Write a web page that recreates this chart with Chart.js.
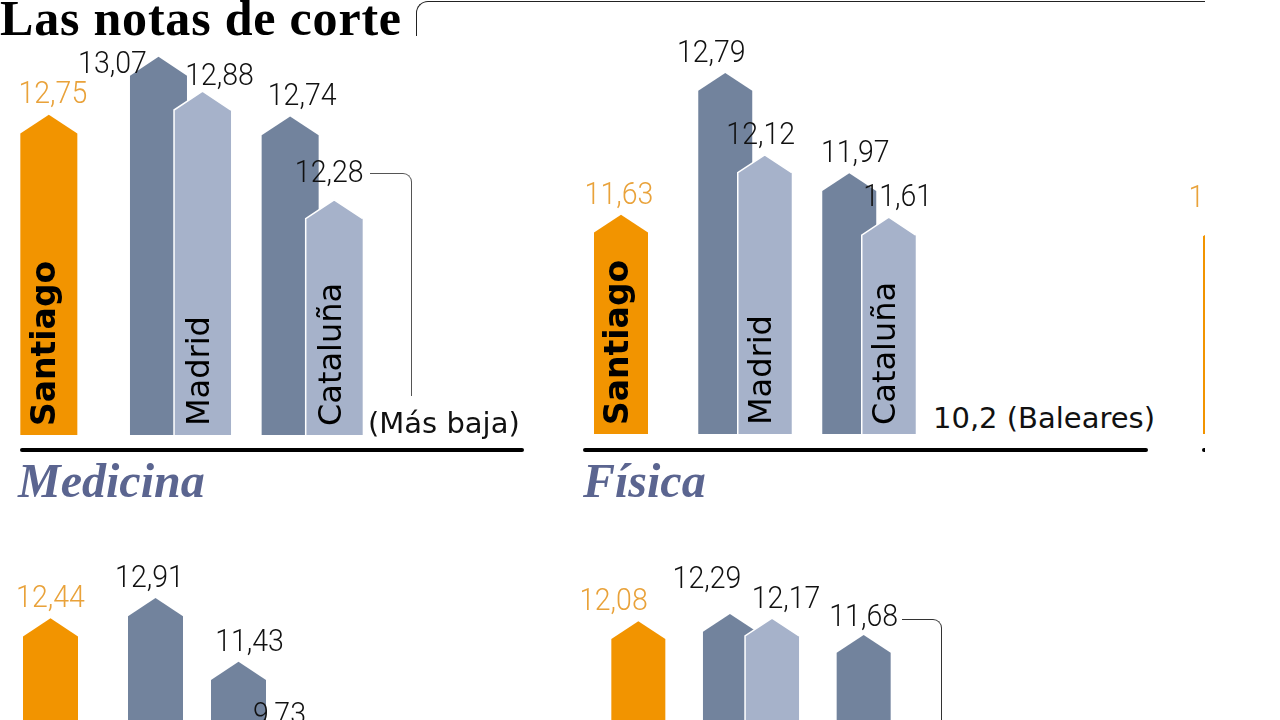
<!DOCTYPE html>
<html lang="es">
<head>
<meta charset="utf-8">
<title>Las notas de corte</title>
<script src="https://cdn.jsdelivr.net/npm/chart.js@4.4.1/dist/chart.umd.min.js"></script>
<style>
  html, body { margin: 0; padding: 0; background: #fff; }
  body { width: 1280px; height: 720px; overflow: hidden; position: relative; }
  #sheet { position: absolute; left: 0; top: 0; width: 1205px; height: 720px; overflow: hidden; }
  .abs { position: absolute; }
  canvas.panel { position: absolute; }
  .title { left: 0; top: -7px; font: bold 50px/50px "Liberation Serif", serif; letter-spacing: 0.8px; color: #000; white-space: nowrap; }
  .bracket { left: 416px; top: 1px; width: 900px; height: 34px; border-left: 1.5px solid #222; border-top: 1.5px solid #222; border-top-left-radius: 12px; }
  .axis { height: 4px; background: #000; border-radius: 2px; top: 448px; }
  .subject { top: 457px; font: italic bold 48px/48px "Liberation Serif", serif; color: #5b6590; white-space: nowrap; }
  .note { font: 29px/30px "DejaVu Sans", sans-serif; color: #111; white-space: nowrap; }
  .link { border-top: 1.5px solid #555; border-right: 1.5px solid #555; border-top-right-radius: 9px; }
</style>
</head>
<body>
<div id="sheet">
  <div class="abs title">Las notas de corte</div>
  <div class="abs bracket"></div>

  <canvas id="medicina" class="panel" width="395" height="435" style="left:-17px;top:0"></canvas>
  <canvas id="fisica" class="panel" width="372" height="434" style="left:559px;top:0"></canvas>
  <canvas id="tercera" class="panel" width="124" height="434" style="left:1168px;top:0"></canvas>
  <canvas id="abajoIzq" class="panel" width="315" height="440" style="left:-2px;top:480px"></canvas>
  <canvas id="abajoCen" class="panel" width="338" height="440" style="left:582px;top:480px"></canvas>

  <div class="abs link" style="left:370px;top:173px;width:41px;height:222px"></div>
  <div class="abs note" style="left:368px;top:408px">(Más baja)</div>
  <div class="abs note" id="baleares" style="left:933px;top:403px"></div>
  <div class="abs link" style="left:902px;top:619px;width:39px;height:200px;border-color:#333"></div>

  <div class="abs axis" style="left:20px;width:504px"></div>
  <div class="abs axis" style="left:583px;width:565px"></div>
  <div class="abs axis" style="left:1202px;width:60px"></div>
  <div class="abs subject" style="left:18px">Medicina</div>
  <div class="abs subject" style="left:583px">Física</div>
</div>

<script>
// ---------- datos ----------
const regions = ['Santiago', 'Madrid', 'Cataluña'];

const medicinaSantiago = [12.75, null, null];
const medicinaAlta = [null, 13.07, 12.74];
const medicinaBaja = [null, 12.88, 12.28];

const fisicaSantiago = [11.63, null, null];
const fisicaAlta = [null, 12.79, 11.97];
const fisicaBaja = [null, 12.12, 11.61];
const fisicaMinima = '10,2 (Baleares)';

// third block: only the left edge of its first bar is visible, value estimated
const terceraSantiago = [11.6];

const abajoIzqSantiago = [12.44, null, null];
const abajoIzqAlta = [null, 12.91, 11.43];
const abajoIzqBaja = [null, null, 9.73];

const abajoCenSantiago = [12.08, null, null];
const abajoCenAlta = [null, 12.29, 11.68];
const abajoCenBaja = [null, 12.17, null];

// ---------- estilo ----------
const ORANGE = '#f29400';
const ORANGE_TXT = '#e9a23a';
const DARK = '#72839d';
const LIGHT = '#a6b2ca';

const fmt = v => v.toLocaleString('es-ES', { minimumFractionDigits: 2, maximumFractionDigits: 2 });

// draws each bar as an arrow (pentagon) from the bar element geometry, then names and values
const arrowBars = {
  id: 'arrowBars',
  afterDatasetsDraw(chart, args, opts) {
    const ctx = chart.ctx;
    const sets = chart.data.datasets;
    const lastByIndex = {};
    sets.forEach((ds, di) => ds.data.forEach((v, i) => { if (v != null) lastByIndex[i] = di; }));

    sets.forEach((ds, di) => {
      chart.getDatasetMeta(di).data.forEach((bar, i) => {
        if (ds.data[i] == null) return;
        const { x, y, base, width } = bar.getProps(['x', 'y', 'base', 'width'], true);
        const h = width / 2, tip = width * 0.33;
        ctx.save();
        ctx.beginPath();
        ctx.moveTo(x - h, base);
        ctx.lineTo(x - h, y + tip);
        ctx.lineTo(x, y);
        ctx.lineTo(x + h, y + tip);
        ctx.lineTo(x + h, base);
        ctx.closePath();
        ctx.fillStyle = ds.arrowColor;
        ctx.fill();
        if (ds.outline) {
          ctx.beginPath();
          ctx.moveTo(x - h, base);
          ctx.lineTo(x - h, y + tip);
          ctx.lineTo(x, y);
          ctx.lineTo(x + h, y + tip);
          ctx.strokeStyle = '#fff';
          ctx.lineWidth = 1.5;
          ctx.stroke();
        }
        ctx.restore();
      });
    });

    // region names, rotated, on the last bar of each group
    Object.keys(lastByIndex).forEach(k => {
      const i = +k, di = lastByIndex[k];
      const bar = chart.getDatasetMeta(di).data[i];
      const { x, base } = bar.getProps(['x', 'base'], true);
      ctx.save();
      ctx.translate(x - 2, base - 9);
      ctx.rotate(-Math.PI / 2);
      ctx.font = i === 0 ? 'bold 33px "DejaVu Sans", sans-serif' : '32px "DejaVu Sans", sans-serif';
      ctx.fillStyle = '#000';
      ctx.textAlign = 'left';
      ctx.textBaseline = 'middle';
      ctx.fillText(chart.data.labels[i], 0, 0);
      ctx.restore();
    });

    // values
    const nudge = opts.nudge || {};
    sets.forEach((ds, di) => {
      chart.getDatasetMeta(di).data.forEach((bar, i) => {
        if (ds.data[i] == null) return;
        const { x, y } = bar.getProps(['x', 'y'], true);
        const [dx, dy] = nudge[di + '-' + i] || [0, -19];
        ctx.save();
        ctx.translate(x + dx, y + dy);
        ctx.scale(0.92, 1);
        ctx.font = '300 31px Roboto, sans-serif';
        ctx.fillStyle = ds.textColor;
        ctx.textAlign = 'center';
        ctx.textBaseline = 'middle';
        ctx.fillText(fmt(ds.data[i]), 0, 0);
        ctx.restore();
      });
    });
  }
};

function panel(id, series, cfg) {
  const looks = [
    { arrowColor: ORANGE, textColor: ORANGE_TXT, outline: false },
    { arrowColor: DARK, textColor: '#111', outline: false },
    { arrowColor: LIGHT, textColor: '#111', outline: true }
  ];
  return new Chart(document.getElementById(id), {
    type: 'bar',
    data: {
      labels: regions.slice(0, series[0].length),
      datasets: series.map((data, k) => Object.assign({
        data,
        base: cfg.min,
        backgroundColor: 'rgba(0,0,0,0)',
        borderWidth: 0,
        skipNull: true,
        categoryPercentage: cfg.catPct,
        barPercentage: cfg.barPct,
        maxBarThickness: cfg.maxBar
      }, looks[k]))
    },
    options: {
      responsive: false,
      animation: false,
      layout: { padding: 0 },
      events: [],
      plugins: {
        legend: { display: false },
        tooltip: { enabled: false },
        arrowBars: { nudge: cfg.nudge }
      },
      scales: {
        x: { display: false, offset: true, grid: { display: false } },
        y: { display: false, min: cfg.min, max: cfg.max, grace: 0 }
      }
    },
    plugins: [arrowBars]
  });
}

panel('medicina', [medicinaSantiago, medicinaAlta, medicinaBaja], {
  min: 10.98, max: 13.384, catPct: 0.669, barPct: 1.3, maxBar: 57,
  nudge: { '0-0': [4, -19], '1-1': [-46, 8], '2-1': [17, -14], '1-2': [12, -19], '2-2': [-5, -26] }
});

panel('fisica', [fisicaSantiago, fisicaAlta, fisicaBaja], {
  min: 9.838, max: 13.386, catPct: 0.637, barPct: 1.367, maxBar: 54,
  nudge: { '0-0': [-2, -19], '1-1': [-14, -19], '2-1': [-4, -19], '1-2': [6, -19], '2-2': [9, -19] }
});
document.getElementById('baleares').textContent = fisicaMinima;

panel('tercera', [terceraSantiago], {
  min: 9.838, max: 13.386, catPct: 0.637, barPct: 1.367, maxBar: 54,
  nudge: { '0-0': [-7, -19] }
});

panel('abajoIzq', [abajoIzqSantiago, abajoIzqAlta, abajoIzqBaja], {
  min: 5.424, max: 15.657, catPct: 0.838, barPct: 1.25, maxBar: 55,
  nudge: { '1-1': [-6, -19], '1-2': [11, -19], '2-2': [-3, -19] }
});

panel('abajoCen', [abajoCenSantiago, abajoCenAlta, abajoCenBaja], {
  min: 3.395, max: 16.185, catPct: 0.747, barPct: 1.286, maxBar: 54,
  nudge: { '0-0': [-25, -19], '1-1': [-23, -34], '2-1': [14, -18], '1-2': [0, -17] }
});
</script>
</body>
</html>
